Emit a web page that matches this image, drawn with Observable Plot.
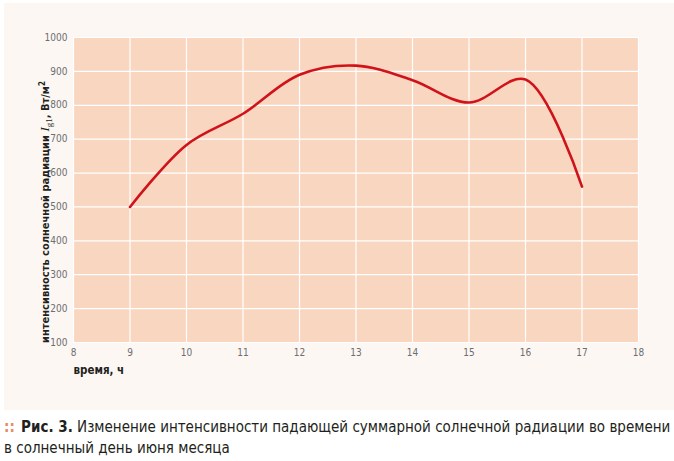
<!DOCTYPE html>
<html>
<head>
<meta charset="utf-8">
<script src="https://cdn.jsdelivr.net/npm/d3@7"></script>
<script src="https://cdn.jsdelivr.net/npm/@observablehq/plot@0.6"></script>
<style>
  html, body { margin: 0; padding: 0; background: #ffffff; }
  body { width: 674px; height: 461px; position: relative; overflow: hidden; }
  #panel { position: absolute; left: 4px; top: 3px; width: 670px; height: 407px; background: #fcf7f3; }
  #chart { position: absolute; left: 0; top: 0; }
  svg text { font-stretch: condensed; }
  #caption {
    position: absolute; left: 4px; top: 417px; width: 668px;
    font-family: "DejaVu Sans", sans-serif;
    font-stretch: condensed;
    font-size: 15px; line-height: 21px; color: #231f20;
  }
  #caption .l1 { display: block; white-space: nowrap; }
  #caption .l2 { display: block; white-space: nowrap; }
  #caption .dots { color: #e8885f; font-weight: bold; margin-right: 2px; }
  #caption b { font-weight: bold; }
</style>
</head>
<body>
<div id="panel"></div>
<div id="chart"></div>
<div id="caption"><span class="l1"><span class="dots">::</span> <b>Рис. 3.</b> Изменение интенсивности падающей суммарной солнечной радиации во времени</span><span class="l2">в солнечный день июня месяца</span></div>
<script>
const hours = [9, 10, 11, 12, 13, 14, 15, 16, 17];
const radiation = [500, 683, 775, 890, 917, 874, 808, 876, 560];
const xTicks = [8, 9, 10, 11, 12, 13, 14, 15, 16, 17, 18];
const yTicks = [100, 200, 300, 400, 500, 600, 700, 800, 900, 1000];
const xLabel = "время, ч";

const data = hours.map((h, i) => ({hour: h, value: radiation[i]}));
const font = '"DejaVu Sans", sans-serif';

const plot = Plot.plot({
  width: 674,
  height: 410,
  marginLeft: 73,
  marginRight: 36,
  marginTop: 37,
  marginBottom: 68,
  style: { background: "transparent", fontFamily: font, fontSize: "10px", color: "#6d6e71" },
  x: { domain: [8, 18], tickSize: 0, label: null },
  y: { domain: [100, 1000], tickSize: 0, label: null },
  marks: [
    Plot.frame({ fill: "#f9d6c0", stroke: null }),
    Plot.gridX(xTicks, { stroke: "#ffffff", strokeOpacity: 1, strokeWidth: 1.2 }),
    Plot.gridY(yTicks, { stroke: "#ffffff", strokeOpacity: 1, strokeWidth: 1.2 }),
    Plot.axisX(xTicks, { tickSize: 0, tickPadding: 6, fill: "#6d6e71", fontSize: 10, tickFormat: d3.format("d"), label: null }),
    Plot.axisY(yTicks, { tickSize: 0, tickPadding: 6, fill: "#6d6e71", fontSize: 10, tickFormat: d3.format("d"), label: null }),
    Plot.line(data, { x: "hour", y: "value", curve: "catmull-rom", stroke: "#d0131b", strokeWidth: 2.6 }),
    Plot.text([xLabel], { frameAnchor: "bottom-left", dy: 31, text: d => d, fontWeight: "bold", fontSize: 11.5, fill: "#231f20", textAnchor: "start" })
  ]
});
document.getElementById("chart").appendChild(plot);

// Rich y-axis label with italic I and subscript
const svg = d3.select(plot);
const t = svg.append("text")
  .attr("transform", "translate(49,212) rotate(-90)")
  .attr("text-anchor", "middle")
  .attr("fill", "#231f20")
  .attr("font-family", font)
  .attr("font-size", 11)
  .attr("font-weight", "bold");
t.append("tspan").text("интенсивность солнечной радиации ");
t.append("tspan").attr("font-family", "Liberation Serif, serif").attr("font-style", "italic").attr("font-weight", "normal").attr("font-size", 13).text("I");
t.append("tspan").attr("font-family", "Liberation Serif, serif").attr("font-weight", "normal").attr("font-size", 9).attr("dy", 2.5).text("g1");
t.append("tspan").attr("dy", -2.5).text(", Вт/м");
t.append("tspan").attr("font-size", 8).attr("dy", -4).text("2");
</script>
</body>
</html>
